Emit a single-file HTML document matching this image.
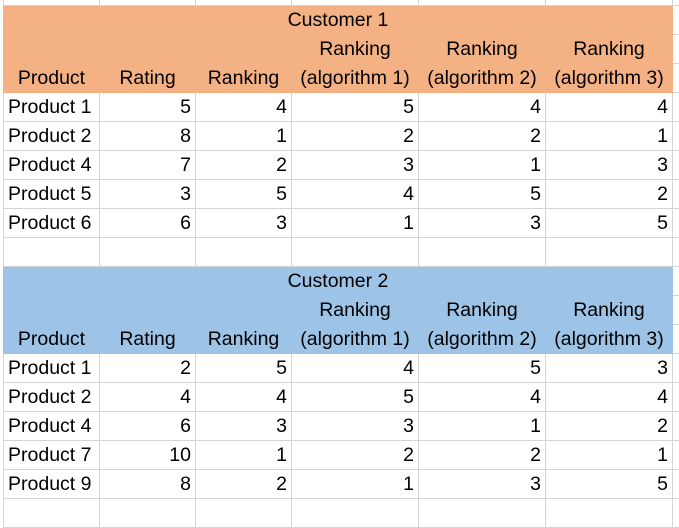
<!DOCTYPE html>
<html><head><meta charset="utf-8"><style>
body{margin:0;width:679px;height:503px;overflow:hidden;background:#fff;font-family:"Liberation Sans",sans-serif;font-size:19.5px;color:#000;position:relative}
table{position:absolute;left:3px;top:-24px;border-collapse:collapse;table-layout:fixed;width:689px}
td{height:28px;border:1px solid #d4d4d4;padding:0 4px;white-space:nowrap;overflow:visible;line-height:28px}
td.n{text-align:right}
td.c{text-align:center}
tr.o td.f{background:#F4B183;border-color:#F4B183}
tr.b td.f{background:#9DC3E6;border-color:#9DC3E6}
</style></head><body>
<table>
<colgroup><col style="width:96px"><col style="width:96px"><col style="width:96px"><col style="width:127px"><col style="width:127px"><col style="width:127px"><col style="width:20px"></colgroup>
<tr><td></td><td></td><td></td><td></td><td></td><td></td><td></td></tr>
<tr class="o"><td class="f c" colspan="6">Customer 1</td><td></td></tr>
<tr class="o"><td class="f"></td><td class="f"></td><td class="f"></td><td class="f c">Ranking</td><td class="f c">Ranking</td><td class="f c">Ranking</td><td></td></tr>
<tr class="o"><td class="f c">Product</td><td class="f c">Rating</td><td class="f c">Ranking</td><td class="f c">(algorithm 1)</td><td class="f c">(algorithm 2)</td><td class="f c">(algorithm 3)</td><td></td></tr>
<tr><td>Product 1</td><td class="n">5</td><td class="n">4</td><td class="n">5</td><td class="n">4</td><td class="n">4</td><td></td></tr>
<tr><td>Product 2</td><td class="n">8</td><td class="n">1</td><td class="n">2</td><td class="n">2</td><td class="n">1</td><td></td></tr>
<tr><td>Product 4</td><td class="n">7</td><td class="n">2</td><td class="n">3</td><td class="n">1</td><td class="n">3</td><td></td></tr>
<tr><td>Product 5</td><td class="n">3</td><td class="n">5</td><td class="n">4</td><td class="n">5</td><td class="n">2</td><td></td></tr>
<tr><td>Product 6</td><td class="n">6</td><td class="n">3</td><td class="n">1</td><td class="n">3</td><td class="n">5</td><td></td></tr>
<tr><td></td><td></td><td></td><td></td><td></td><td></td><td></td></tr>
<tr class="b"><td class="f c" colspan="6">Customer 2</td><td></td></tr>
<tr class="b"><td class="f"></td><td class="f"></td><td class="f"></td><td class="f c">Ranking</td><td class="f c">Ranking</td><td class="f c">Ranking</td><td></td></tr>
<tr class="b"><td class="f c">Product</td><td class="f c">Rating</td><td class="f c">Ranking</td><td class="f c">(algorithm 1)</td><td class="f c">(algorithm 2)</td><td class="f c">(algorithm 3)</td><td></td></tr>
<tr><td>Product 1</td><td class="n">2</td><td class="n">5</td><td class="n">4</td><td class="n">5</td><td class="n">3</td><td></td></tr>
<tr><td>Product 2</td><td class="n">4</td><td class="n">4</td><td class="n">5</td><td class="n">4</td><td class="n">4</td><td></td></tr>
<tr><td>Product 4</td><td class="n">6</td><td class="n">3</td><td class="n">3</td><td class="n">1</td><td class="n">2</td><td></td></tr>
<tr><td>Product 7</td><td class="n">10</td><td class="n">1</td><td class="n">2</td><td class="n">2</td><td class="n">1</td><td></td></tr>
<tr><td>Product 9</td><td class="n">8</td><td class="n">2</td><td class="n">1</td><td class="n">3</td><td class="n">5</td><td></td></tr>
<tr><td></td><td></td><td></td><td></td><td></td><td></td><td></td></tr>
</table>
</body></html>
